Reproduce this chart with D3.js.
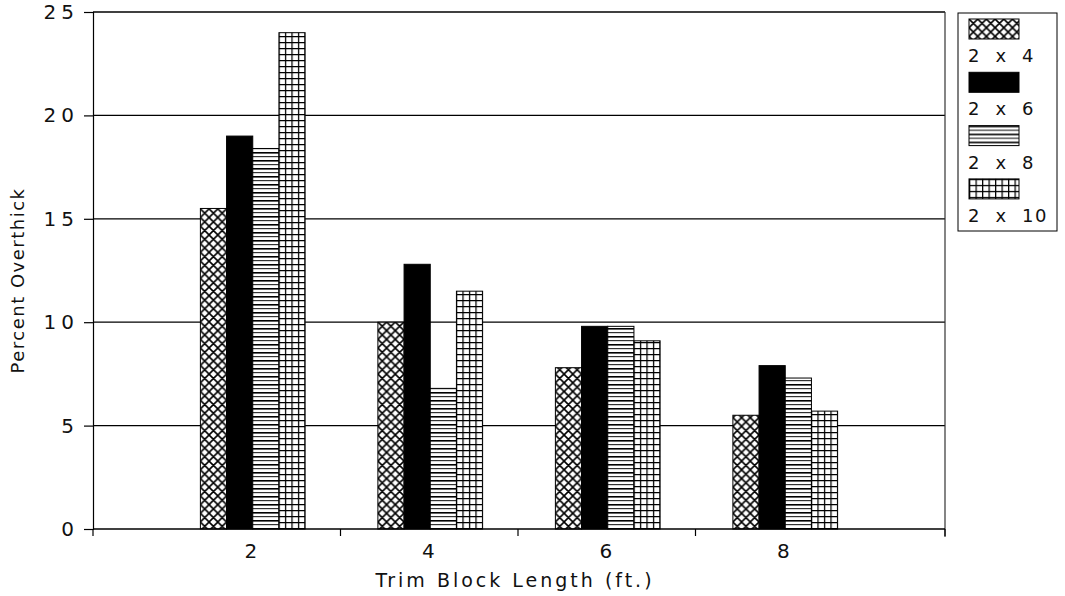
<!DOCTYPE html>
<html>
<head>
<meta charset="utf-8">
<script src="https://cdn.jsdelivr.net/npm/d3@7"></script>
<style>
  body { margin: 0; background: #fff; }
  text { font-family: "DejaVu Sans", "Liberation Sans", sans-serif; fill: #111; }
</style>
</head>
<body>
<div id="chart"></div>
<script>
// Data
const lengths = ["2", "4", "6", "8"];
const sizes = ["2 x 4", "2 x 6", "2 x 8", "2 x 10"];
const val2x4 = [15.5, 10.0, 7.8, 5.5];
const val2x6 = [19.0, 12.8, 9.8, 7.9];
const val2x8 = [18.4, 6.8, 9.8, 7.3];
const val2x10 = [24.0, 11.5, 9.1, 5.7];
const yTicks = [0, 5, 10, 15, 20, 25];

const seriesValues = [val2x4, val2x6, val2x8, val2x10];
const fills = ["url(#cross)", "#000", "url(#hlines)", "url(#grid)"];

const width = 1065, height = 596;
const margin = { left: 93, right: 120, top: 12, bottom: 67 };

const svg = d3.select("#chart").append("svg")
    .attr("width", width)
    .attr("height", height);

// hatch patterns like the old plotter fills
const defs = svg.append("defs");

const cross = defs.append("pattern")
    .attr("id", "cross").attr("patternUnits", "userSpaceOnUse")
    .attr("width", 8.7).attr("height", 8.7);
cross.append("rect").attr("width", 8.7).attr("height", 8.7).attr("fill", "#fff");
cross.append("path").attr("d", "M0,0L8.7,8.7M8.7,0L0,8.7M-1,7.7L1,9.7M7.7,-1L9.7,1")
    .attr("stroke", "#000").attr("stroke-width", 1.6);

const hl = defs.append("pattern")
    .attr("id", "hlines").attr("patternUnits", "userSpaceOnUse")
    .attr("width", 26).attr("height", 8);
hl.append("rect").attr("width", 26).attr("height", 8).attr("fill", "#fff");
hl.append("rect").attr("y", 0).attr("width", 26).attr("height", 1.6).attr("fill", "#000");
hl.append("rect").attr("y", 4).attr("width", 26).attr("height", 1.2).attr("fill", "#333");

const grid = defs.append("pattern")
    .attr("id", "grid").attr("patternUnits", "userSpaceOnUse")
    .attr("width", 6.5).attr("height", 6);
grid.append("rect").attr("width", 6.5).attr("height", 6).attr("fill", "#fff");
grid.append("path").attr("d", "M0.6,0V6M0,0.6H6.5")
    .attr("stroke", "#000").attr("stroke-width", 1.3);

// scales
const x0 = d3.scaleBand()
    .domain(lengths)
    .range([margin.left, width - margin.right])
    .paddingInner(0.41)
    .paddingOuter(0.605);

const x1 = d3.scaleBand()
    .domain(sizes)
    .range([0, x0.bandwidth()]);

const y = d3.scaleLinear()
    .domain([0, 25])
    .range([height - margin.bottom, margin.top]);

const plotRight = width - margin.right;

// horizontal grid lines
svg.append("g")
    .selectAll("line")
    .data(yTicks.filter(d => d > 0))
    .join("line")
        .attr("x1", margin.left).attr("x2", plotRight)
        .attr("y1", d => y(d)).attr("y2", d => y(d))
        .attr("stroke", "#000").attr("stroke-width", 1.3);

// right frame edge
svg.append("line")
    .attr("x1", plotRight).attr("x2", plotRight)
    .attr("y1", y(25)).attr("y2", y(0) + 8)
    .attr("stroke", "#333").attr("stroke-width", 1.2);

// bars
const groups = svg.append("g")
    .selectAll("g")
    .data(lengths)
    .join("g")
        .attr("transform", d => `translate(${x0(d)},0)`);

groups.selectAll("rect")
    .data((d, i) => sizes.map((s, j) => ({ size: s, value: seriesValues[j][i], j })))
    .join("rect")
        .attr("x", d => x1(d.size))
        .attr("width", x1.bandwidth())
        .attr("y", d => y(d.value))
        .attr("height", d => y(0) - y(d.value))
        .attr("fill", d => fills[d.j])
        .attr("stroke", "#000")
        .attr("stroke-width", 1);

// y axis
const yAxis = svg.append("g")
    .attr("transform", `translate(${margin.left},0)`)
    .call(d3.axisLeft(y).tickValues(yTicks).tickSize(9).tickPadding(5).tickFormat(d3.format("d")));
yAxis.select(".domain").attr("stroke", "#000").attr("stroke-width", 1.2);
yAxis.selectAll(".tick line").attr("stroke", "#000").attr("stroke-width", 1.2);
yAxis.selectAll(".tick text")
    .attr("font-size", 20)
    .attr("letter-spacing", 5)
    .attr("fill", "#111")
    .style("font-family", "'DejaVu Sans', sans-serif");

// x axis baseline with ticks at band boundaries
const xBounds = [margin.left]
    .concat(lengths.slice(1).map(d => x0(d) - x0.step() * x0.paddingInner() / 2 - 1))
    .concat([plotRight]);

svg.append("line")
    .attr("x1", margin.left).attr("x2", plotRight)
    .attr("y1", y(0)).attr("y2", y(0))
    .attr("stroke", "#000").attr("stroke-width", 1.4);

svg.append("g")
    .selectAll("line")
    .data(xBounds)
    .join("line")
        .attr("x1", d => d).attr("x2", d => d)
        .attr("y1", y(0)).attr("y2", y(0) + 7)
        .attr("stroke", "#000").attr("stroke-width", 1.2);

svg.append("g")
    .selectAll("text")
    .data(lengths)
    .join("text")
        .attr("x", d => x0(d) + x0.bandwidth() / 2 - 2)
        .attr("y", y(0) + 29)
        .attr("text-anchor", "middle")
        .attr("font-size", 20)
        .text(d => d);

// axis titles
svg.append("text")
    .attr("x", (margin.left + plotRight) / 2 - 4)
    .attr("y", height - 9)
    .attr("text-anchor", "middle")
    .attr("font-size", 19)
    .attr("letter-spacing", 3)
    .text("Trim Block Length (ft.)");

svg.append("text")
    .attr("transform", `translate(24,${(y(0) + y(25)) / 2 + 10}) rotate(-90)`)
    .attr("text-anchor", "middle")
    .attr("font-size", 18)
    .attr("letter-spacing", 1.5)
    .text("Percent Overthick");

// legend
const legend = svg.append("g").attr("transform", "translate(958,13)");
legend.append("rect")
    .attr("width", 99).attr("height", 218)
    .attr("fill", "#fff").attr("stroke", "#000").attr("stroke-width", 1);

const item = legend.selectAll("g.item")
    .data(sizes)
    .join("g")
        .attr("class", "item")
        .attr("transform", (d, i) => `translate(11,${6 + i * 53.3})`);

item.append("rect")
    .attr("width", 50).attr("height", 20)
    .attr("fill", (d, i) => fills[i])
    .attr("stroke", "#000").attr("stroke-width", 1);

item.append("text")
    .attr("x", -1)
    .attr("y", 43)
    .attr("font-size", 18)
    .attr("letter-spacing", 1.5)
    .attr("xml:space", "preserve")
    .style("white-space", "pre")
    .text(d => d.replace(" x ", "  x  "));
</script>
</body>
</html>
